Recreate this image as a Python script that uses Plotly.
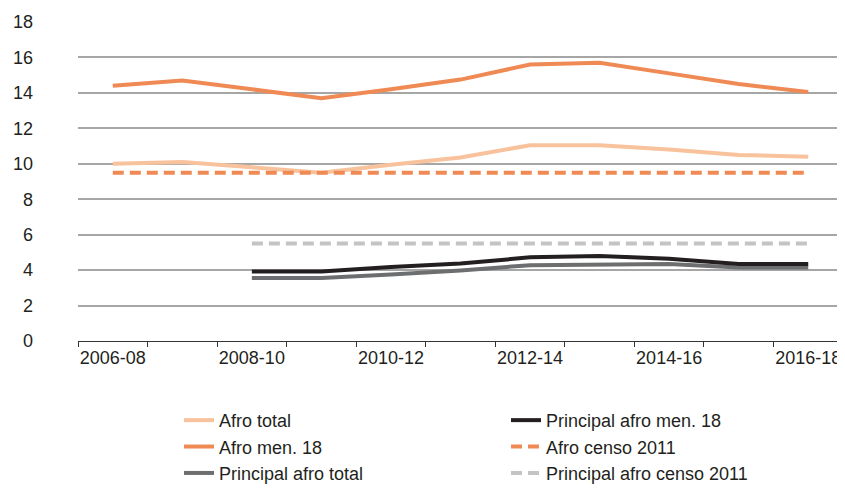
import plotly.graph_objects as go

categories = ["2006-08", "2007-09", "2008-10", "2009-11", "2010-12", "2011-13",
              "2012-14", "2013-15", "2014-16", "2015-17", "2016-18"]
tick_labels = [c if i % 2 == 0 else "" for i, c in enumerate(categories)]

afro_total = [10.0, 10.1, 9.8, 9.5, 9.95, 10.35, 11.05, 11.05, 10.8, 10.5, 10.4]
afro_men18 = [14.4, 14.7, 14.2, 13.7, 14.2, 14.75, 15.6, 15.7, 15.1, 14.5, 14.05]
principal_afro_total = [None, None, 3.55, 3.55, 3.75, 3.98, 4.28, 4.32, 4.35, 4.15, 4.15]
principal_afro_men18 = [None, None, 3.92, 3.92, 4.18, 4.37, 4.72, 4.8, 4.64, 4.35, 4.35]
afro_censo_2011 = [9.5] * 11
principal_afro_censo_2011 = [None, None] + [5.5] * 9

FONT = "Liberation Sans, Arial, sans-serif"

fig = go.Figure()

series = [
    ("Afro total", afro_total, "#F8C29C", "solid", 1),
    ("Afro men. 18", afro_men18, "#EF8A55", "solid", 3),
    ("Afro censo 2011", afro_censo_2011, "#EF8A55", "11px,6px", 4),
    ("Principal afro censo 2011", principal_afro_censo_2011, "#C4C4C4", "11px,6px", 6),
    ("Principal afro total", principal_afro_total, "#6D6E70", "solid", 5),
    ("Principal afro men. 18", principal_afro_men18, "#231F20", "solid", 2),
]

for name, vals, color, dash, rank in series:
    fig.add_trace(go.Scatter(
        x=categories, y=vals, name=name, mode="lines",
        line=dict(color=color, width=4, dash=dash),
        legendrank=rank, hoverinfo="skip",
    ))

# The page body adds an 8px offset, so the figure is 8px smaller on each axis
fig.update_layout(
    width=837, height=481,
    margin=dict(l=70, r=2, t=14, b=148, autoexpand=False),
    paper_bgcolor="white", plot_bgcolor="white",
    font=dict(family=FONT, size=18, color="#231F20"),
    showlegend=True,
    legend=dict(
        orientation="h", xref="container", yref="container",
        x=0.2043, xanchor="left", y=0.181, yanchor="top",
        entrywidth=282, entrywidthmode="pixels",
        font=dict(family=FONT, size=18, color="#231F20"),
        traceorder="normal",
    ),
    xaxis=dict(
        type="category", categoryorder="array", categoryarray=categories,
        tickvals=categories, ticktext=tick_labels, tickangle=0,
        tickson="boundaries", ticks="outside", ticklen=5, tickcolor="#333333",
        showline=True, linecolor="#333333", linewidth=1,
        showgrid=False, range=[-0.5, 10.5], automargin=False,
    ),
    yaxis=dict(
        range=[0, 18], dtick=2, tick0=0,
        showgrid=True, gridcolor="#A6A6A6", gridwidth=1.5,
        zeroline=False, showline=False, ticks="",
        ticklabelstandoff=44, automargin=False,
    ),
)

fig.write_html("out.html")
